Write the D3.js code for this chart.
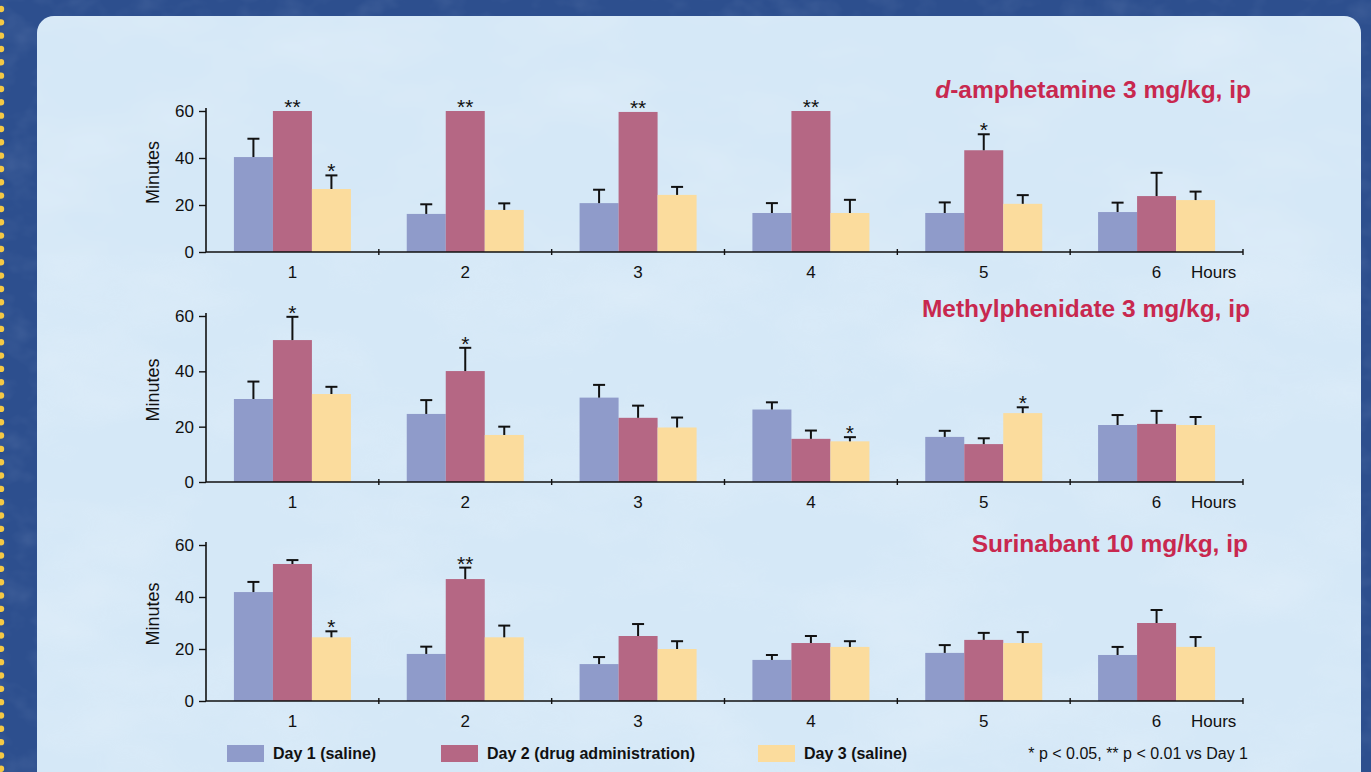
<!DOCTYPE html>
<html>
<head>
<meta charset="utf-8">
<script src="https://cdn.jsdelivr.net/npm/d3@7"></script>
<style>
  html, body { margin: 0; padding: 0; background: #2d4f8e; }
  svg { display: block; }
  text { font-family: "Liberation Sans", Arial, Helvetica, sans-serif; }
</style>
</head>
<body>
<svg id="chart" width="1371" height="772"></svg>
<script>
// ---- data -------------------------------------------------------------
const hours = ["1", "2", "3", "4", "5", "6"];
const seriesNames = ["Day 1 (saline)", "Day 2 (drug administration)", "Day 3 (saline)"];
const yTicks = [0, 20, 40, 60];

// d-amphetamine 3 mg/kg, ip  (mean minutes, SEM, significance)
const amphDay1 = [40.4, 16.2, 20.8, 16.6, 16.6, 17.0];
const amphDay2 = [60.0, 60.0, 59.6, 60.0, 43.3, 23.8];
const amphDay3 = [26.8, 17.9, 24.3, 16.6, 20.5, 22.1];
const amphSem1 = [7.8, 4.1, 5.7, 4.2, 4.5, 4.0];
const amphSem2 = [0, 0, 0, 0, 6.8, 9.9];
const amphSem3 = [5.8, 2.8, 3.4, 5.6, 3.7, 3.6];
const amphSig2 = ["**", "**", "**", "**", "*", ""];
const amphSig3 = ["*", "", "", "", "", ""];

// Methylphenidate 3 mg/kg, ip
const mphDay1 = [30.0, 24.6, 30.5, 26.2, 16.3, 20.6];
const mphDay2 = [51.3, 40.1, 23.2, 15.6, 13.7, 21.0];
const mphDay3 = [31.8, 17.0, 19.7, 14.7, 24.9, 20.6];
const mphSem1 = [6.3, 5.0, 4.6, 2.6, 2.2, 3.6];
const mphSem2 = [8.4, 8.4, 4.4, 3.0, 2.1, 4.7];
const mphSem3 = [2.6, 3.0, 3.6, 1.5, 2.1, 2.9];
const mphSig2 = ["*", "*", "", "", "", ""];
const mphSig3 = ["", "", "", "*", "*", ""];

// Surinabant 10 mg/kg, ip
const surDay1 = [41.9, 18.1, 14.2, 15.8, 18.5, 17.7];
const surDay2 = [52.7, 46.9, 25.0, 22.3, 23.5, 30.0];
const surDay3 = [24.5, 24.5, 20.0, 20.8, 22.3, 20.8];
const surSem1 = [3.9, 2.8, 2.7, 1.9, 3.0, 3.1];
const surSem2 = [1.5, 4.4, 4.6, 2.7, 2.7, 5.0];
const surSem3 = [2.3, 4.5, 3.0, 2.2, 4.2, 3.8];
const surSig2 = ["", "**", "", "", "", ""];
const surSig3 = ["*", "", "", "", "", ""];

const footnote = "* p < 0.05, ** p < 0.01 vs Day 1";

// ---- styles -----------------------------------------------------------
const colors = ["#8f9bca", "#b56784", "#fbdc9d"];
const titleColor = "#c8284f";
const ink = "#111";

const svg = d3.select("#chart");
const W = 1371, H = 772;

// ---- backdrop: mottled dark blue page with a pale card ----------------
const defs = svg.append("defs");
const grain = defs.append("filter").attr("id", "grain")
  .attr("x", 0).attr("y", 0).attr("width", 1).attr("height", 1);
grain.append("feTurbulence").attr("type", "fractalNoise")
  .attr("baseFrequency", "0.006 0.012").attr("numOctaves", 4).attr("seed", 7);
grain.append("feColorMatrix").attr("type", "matrix")
  .attr("values", "0 0 0 0 1  0 0 0 0 1  0 0 0 0 1  1.1 0 0 0 -0.45");
const grainDark = defs.append("filter").attr("id", "grainDark")
  .attr("x", 0).attr("y", 0).attr("width", 1).attr("height", 1);
grainDark.append("feTurbulence").attr("type", "fractalNoise")
  .attr("baseFrequency", "0.03 0.04").attr("numOctaves", 3).attr("seed", 3);
grainDark.append("feColorMatrix").attr("type", "matrix")
  .attr("values", "0 0 0 0 0.5  0 0 0 0 0.6  0 0 0 0 0.8  0.9 0 0 0 -0.4");

svg.append("rect").attr("width", W).attr("height", H).attr("fill", "#2d4f8e");
svg.append("rect").attr("width", W).attr("height", H).attr("filter", "url(#grainDark)").attr("opacity", 0.25);

// yellow perforation dots along the left edge
svg.append("g").selectAll("circle")
  .data(d3.range(9, H, 13.33))
  .join("circle")
  .attr("cx", 1).attr("cy", d => d).attr("r", 3.2).attr("fill", "#f4c945");

const cardClip = defs.append("clipPath").attr("id", "cardClip");
cardClip.append("rect").attr("x", 37).attr("y", 16).attr("width", 1324).attr("height", 800).attr("rx", 17);
svg.append("rect").attr("x", 37).attr("y", 16).attr("width", 1324).attr("height", 800)
  .attr("rx", 17).attr("fill", "#d5e8f7");
svg.append("rect").attr("x", 37).attr("y", 16).attr("width", 1324).attr("height", 800)
  .attr("clip-path", "url(#cardClip)").attr("filter", "url(#grain)").attr("opacity", 0.35);

// ---- panels -----------------------------------------------------------
const panels = [
  { title: ["d", "-amphetamine 3 mg/kg, ip"], means: [amphDay1, amphDay2, amphDay3],
    sems: [amphSem1, amphSem2, amphSem3], sigs: [[], amphSig2, amphSig3],
    y0: 252, y60: 111, titleX: 1251, titleY: 98, labelY: 278 },
  { title: [null, "Methylphenidate 3 mg/kg, ip"], means: [mphDay1, mphDay2, mphDay3],
    sems: [mphSem1, mphSem2, mphSem3], sigs: [[], mphSig2, mphSig3],
    y0: 482, y60: 316, titleX: 1250, titleY: 317, labelY: 508 },
  { title: [null, "Surinabant 10 mg/kg, ip"], means: [surDay1, surDay2, surDay3],
    sems: [surSem1, surSem2, surSem3], sigs: [[], surSig2, surSig3],
    y0: 701, y60: 545, titleX: 1248, titleY: 552, labelY: 727 }
];

const xLeft = 206, xRight = 1243;
const x = d3.scaleBand().domain(hours).range([xLeft, xRight]).paddingInner(0).paddingOuter(0);
const xSub = d3.scaleBand().domain([0, 1, 2]).range([0, 117]);
const groupOffset = (x.bandwidth() - 117) / 2;

panels.forEach(p => {
  const g = svg.append("g");
  const y = d3.scaleLinear().domain([0, 60]).range([p.y0, p.y60]);

  // bars
  p.means.forEach((vals, s) => {
    g.append("g").selectAll("rect")
      .data(vals)
      .join("rect")
      .attr("x", (d, i) => x(hours[i]) + groupOffset + xSub(s))
      .attr("width", xSub.bandwidth())
      .attr("y", d => y(d))
      .attr("height", d => y(0) - y(d))
      .attr("fill", colors[s]);
  });

  // error bars (upper half only) and significance marks
  p.means.forEach((vals, s) => {
    vals.forEach((m, i) => {
      const cx = x(hours[i]) + groupOffset + xSub(s) + xSub.bandwidth() / 2;
      const e = p.sems[s][i];
      let top = y(m);
      if (e > 0) {
        top = y(m + e);
        g.append("line").attr("x1", cx).attr("x2", cx).attr("y1", y(m)).attr("y2", top)
          .attr("stroke", ink).attr("stroke-width", 2);
        g.append("line").attr("x1", cx - 6).attr("x2", cx + 6).attr("y1", top).attr("y2", top)
          .attr("stroke", ink).attr("stroke-width", 2);
      }
      const sig = p.sigs[s][i];
      if (sig) {
        g.append("text").attr("x", cx).attr("y", top + 3)
          .attr("text-anchor", "middle").attr("font-size", 21).attr("fill", ink)
          .text(sig);
      }
    });
  });

  // y axis
  const ya = g.append("g").attr("transform", `translate(${xLeft},0)`)
    .call(d3.axisLeft(y).tickValues(yTicks).tickSize(7).tickSizeOuter(0).tickPadding(5));
  ya.select(".domain").attr("d", `M0,${y(0)}V${y(60) - 3}`).attr("stroke", ink).attr("stroke-width", 1.6);
  ya.selectAll(".tick line").attr("stroke", ink).attr("stroke-width", 1.4);
  ya.selectAll(".tick text").attr("font-size", 17).attr("fill", ink)
    .attr("font-family", "'Liberation Sans', Arial, sans-serif");

  // x axis: line with marks at the hour boundaries
  g.append("line").attr("x1", xLeft).attr("x2", xRight).attr("y1", y(0)).attr("y2", y(0))
    .attr("stroke", ink).attr("stroke-width", 1.6);
  g.append("g").selectAll("line")
    .data(hours.slice(1).concat(["end"]))
    .join("line")
    .attr("x1", d => d === "end" ? xRight : x(d))
    .attr("x2", d => d === "end" ? xRight : x(d))
    .attr("y1", y(0) - 3).attr("y2", y(0) + 3)
    .attr("stroke", ink).attr("stroke-width", 1.4);
  g.append("g").selectAll("text")
    .data(hours)
    .join("text")
    .attr("x", d => x(d) + x.bandwidth() / 2)
    .attr("y", p.labelY)
    .attr("text-anchor", "middle").attr("font-size", 17).attr("fill", ink)
    .text(d => d);
  g.append("text").attr("x", 1191).attr("y", p.labelY).attr("font-size", 17).attr("fill", ink)
    .text("Hours");

  // y axis title
  const midY = (p.y0 + p.y60) / 2 - 9;
  g.append("text")
    .attr("transform", `translate(159,${midY}) rotate(-90)`)
    .attr("text-anchor", "middle").attr("font-size", 18).attr("fill", ink)
    .text("Minutes");

  // panel title
  const t = g.append("text").attr("x", p.titleX).attr("y", p.titleY)
    .attr("text-anchor", "end").attr("font-size", 24.5).attr("font-weight", "bold")
    .attr("fill", titleColor);
  if (p.title[0]) t.append("tspan").attr("font-style", "italic").text(p.title[0]);
  t.append("tspan").text(p.title[1]);
});

// ---- legend -----------------------------------------------------------
const legendX = [227, 441, 758];
const lg = svg.append("g");
seriesNames.forEach((name, i) => {
  lg.append("rect").attr("x", legendX[i]).attr("y", 745).attr("width", 37).attr("height", 17)
    .attr("fill", colors[i]);
  lg.append("text").attr("x", legendX[i] + 46).attr("y", 759)
    .attr("font-size", 16).attr("font-weight", "bold").attr("fill", ink)
    .text(name);
});
lg.append("text").attr("x", 1248).attr("y", 759).attr("text-anchor", "end")
  .attr("font-size", 16).attr("fill", ink).text(footnote);
</script>
</body>
</html>
